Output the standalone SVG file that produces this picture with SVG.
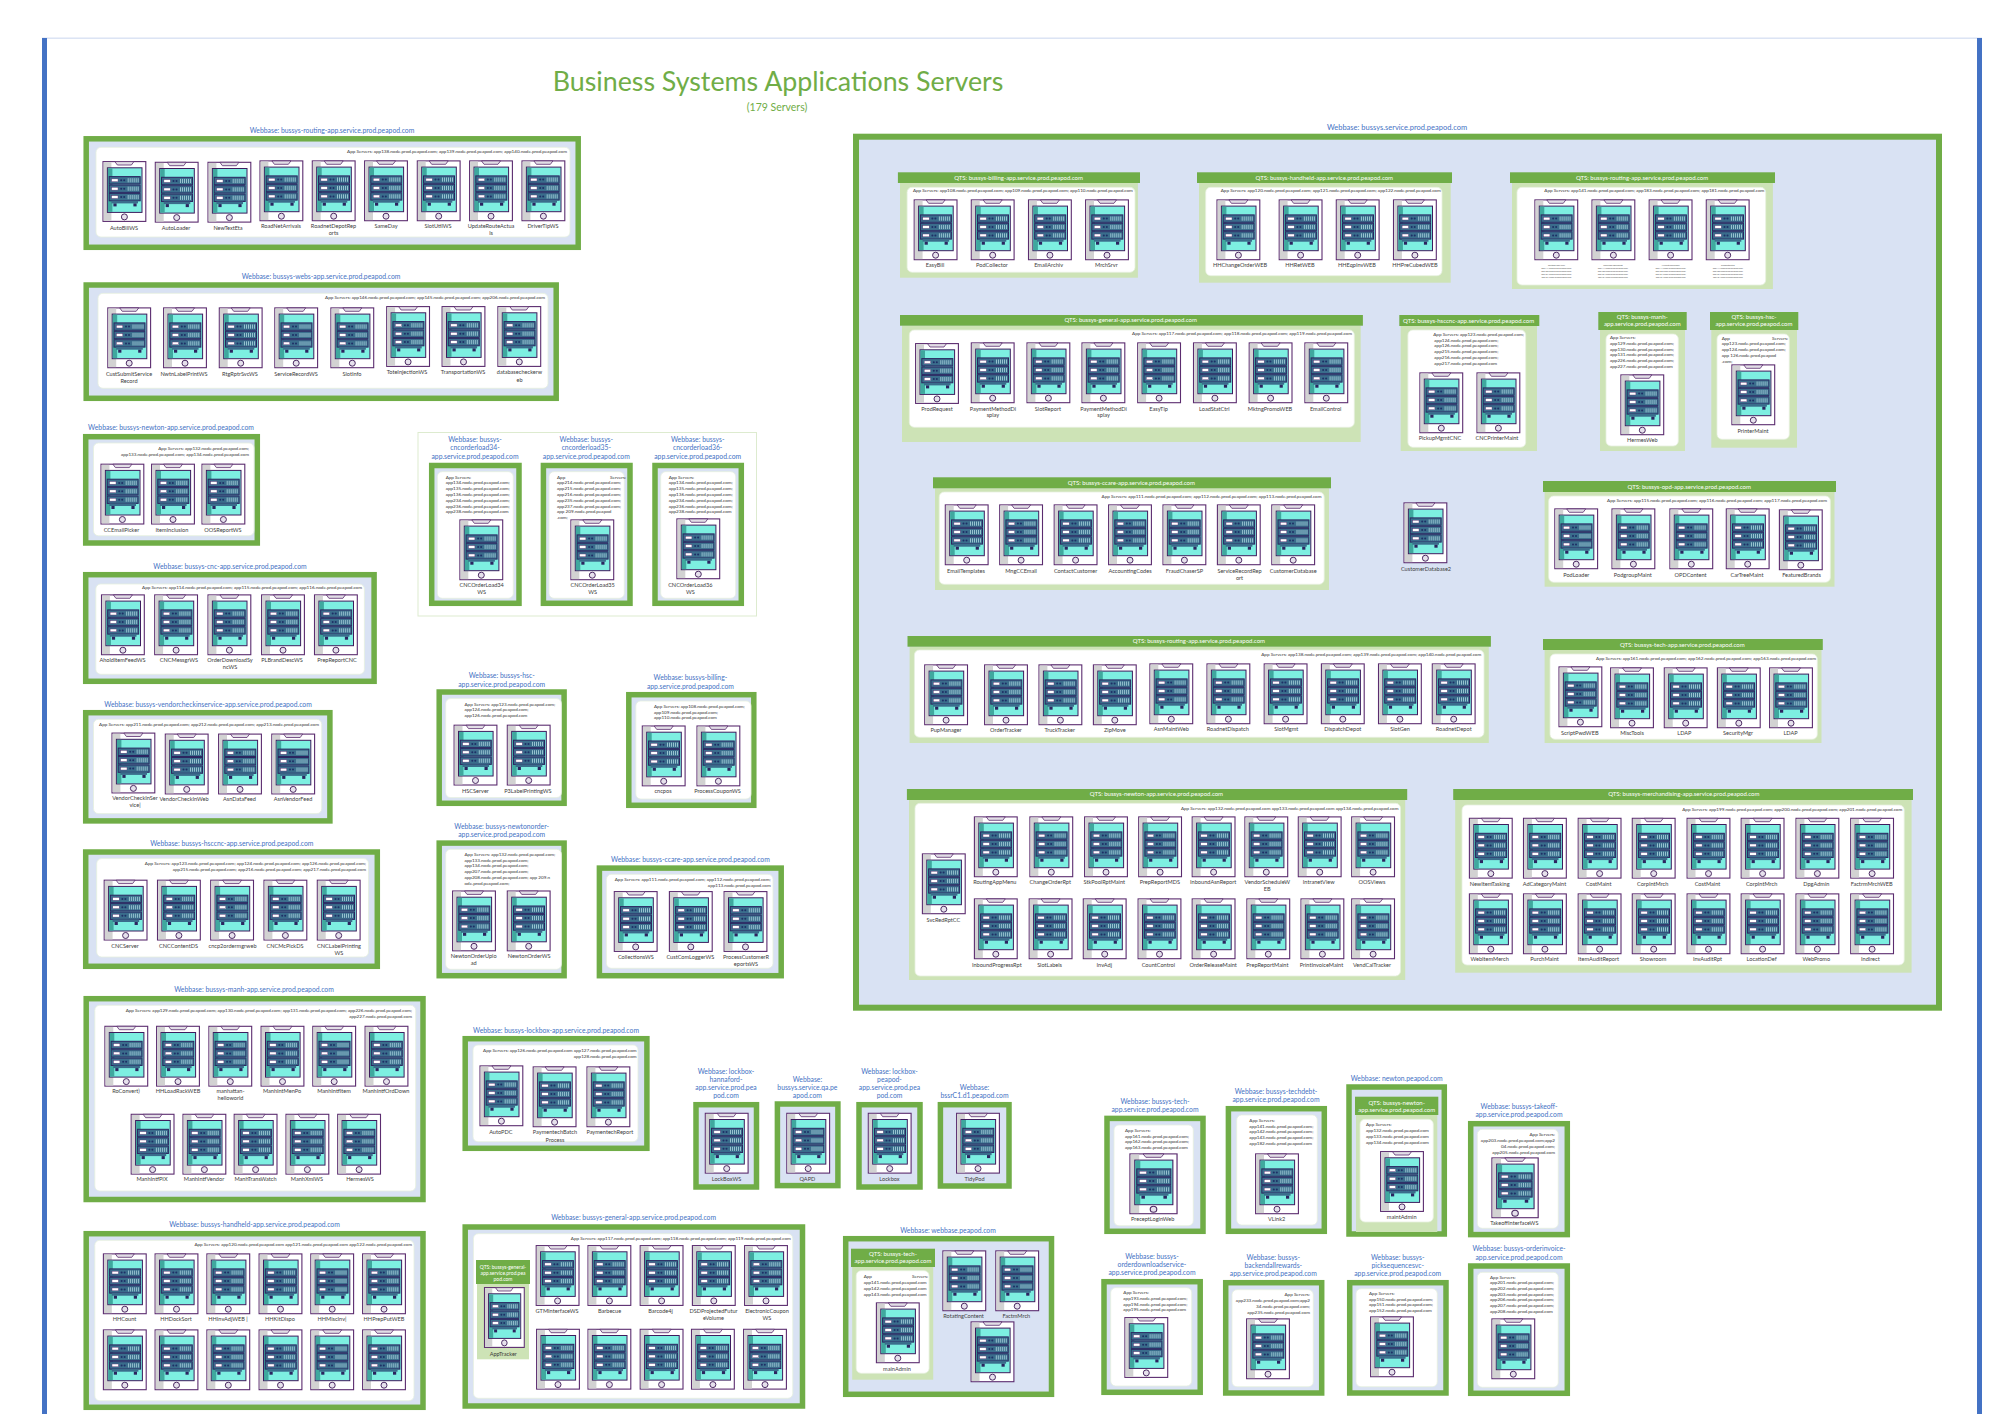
<svg xmlns="http://www.w3.org/2000/svg" width="2000" height="1414" viewBox="0 0 2000 1414">
<style>
text{font-family:Lato,"Liberation Sans",sans-serif}
.t{font-size:6.8px;fill:#4472C4;text-anchor:middle}
.l{font-size:5.6px;fill:#3c3c3c;text-anchor:middle}
.a{font-size:4.6px;fill:#333}
.r{font-size:4.6px;fill:#333;text-anchor:end}
.q{font-size:6px;fill:#fff;text-anchor:middle}
.m{font-size:2.2px;fill:#555;text-anchor:middle}
.o{fill:#D9E2F3;stroke:#70AD47;stroke-width:5.5}
.w{fill:#fff;stroke:#E6F0DE;stroke-width:.8}
.h{fill:#70AD47}
.b{fill:#CDE3B6}
</style>
<defs>
<g id="u"><rect width="31" height="7.4" fill="#3A6D8C" stroke="#2B2560" stroke-width="1"/><rect x="2.4" y="2.3" width="6.4" height="2.8" fill="#fff" stroke="#5B2C6F" stroke-width=".4"/><circle cx="12" cy="3.7" r="1" fill="#1E2F66"/><circle cx="15" cy="3.7" r="1" fill="#1E2F66"/><path d="M19 1.6v4.2M21 1.6v4.2M23 1.6v4.2M25 1.6v4.2M27 1.6v4.2M29 1.6v4.2" stroke="#BFE6EC" stroke-width=".7"/></g>
<g id="s">
<rect x=".6" y=".6" width="42.8" height="59.8" fill="#fff" stroke="#5B2C6F" stroke-width="1.1"/>
<rect x="1.2" y="1.2" width="7.8" height="58.6" fill="#D2D2D2"/>
<path d="M12.5 .6L15 4H29L31.5 .6Z" fill="#E2DEE6" stroke="#5B2C6F" stroke-width=".8"/>
<rect x="5" y="6.8" width="34.6" height="44.6" fill="#7DEFE1" stroke="#3E1C5E" stroke-width="1"/>
<rect x="5.5" y="7.3" width="4.5" height="43.6" fill="#3FA89E"/>
<use href="#u" x="6.8" y="15.6"/><use href="#u" x="6.8" y="24"/><use href="#u" x="6.8" y="32.4"/>
<rect x="9" y="39.8" width="26.6" height="2.6" fill="#3A6D8C"/><rect x="11" y="42.4" width="3.2" height="3" fill="#2B2560"/><rect x="31" y="42.4" width="3.2" height="3" fill="#2B2560"/>
<circle cx="22" cy="55.9" r="3" fill="#E6E1EC" stroke="#4B2A63" stroke-width="1"/>
</g>
</defs>
<g id="frame">
<rect x="42" y="37.5" width="1940" height="1.4" fill="#D9E2F3"/>
<rect x="42" y="38" width="5" height="1376" fill="#4472C4"/>
<rect x="1977" y="38" width="5" height="1376" fill="#4472C4"/>
</g>
<g id="heading">
<text x="778" y="91" fill="#70AD47" text-anchor="middle" style="font-size:26.8px">Business Systems Applications Servers</text>
<text x="777" y="111" fill="#70AD47" text-anchor="middle" style="font-size:10.5px">(179 Servers)</text>
</g>
<g id="connectors"/>

<g id="box-routing">
<rect class="o" x="86.2" y="138.8" width="492" height="108.5"/><rect class="w" x="96" y="147.3" width="474" height="89.7" rx="5"/>
<text class="t" x="332" y="132.5">Webbase: bussys-routing-app.service.prod.peapod.com</text>
<text class="r" x="567" y="153">App Servers: app138.node.prod.peapod.com; app139.node.prod.peapod.com; app140.node.prod.peapod.com</text>
<g id="routing-1"><use href="#s" x="102.4" y="161"/><text class="l" x="124" y="230">AutoBillWS</text></g>
<g id="routing-2"><use href="#s" x="154.7" y="161.7"/><text class="l" x="176" y="230">AutoLoader</text></g>
<g id="routing-3"><use href="#s" x="207.4" y="161.7"/><text class="l" x="228" y="230">NewTextEta</text></g>
<g id="routing-4"><use href="#s" x="259.4" y="160.3"/><text class="l" x="281" y="228">RoadNetArrivals</text></g>
<g id="routing-5"><use href="#s" x="311.7" y="160.3"/><text class="l" x="333.5" y="228">RoadnetDepotRep<tspan x="333.5" y="235">orts</tspan></text></g>
<g id="routing-6"><use href="#s" x="364" y="160.3"/><text class="l" x="386" y="228">SameDay</text></g>
<g id="routing-7"><use href="#s" x="416.7" y="160.3"/><text class="l" x="438" y="228">SlotUtilWS</text></g>
<g id="routing-8"><use href="#s" x="469" y="160.3"/><text class="l" x="491" y="228">UpdateRouteActua<tspan x="491" y="235">ls</tspan></text></g>
<g id="routing-9"><use href="#s" x="521.4" y="160.3"/><text class="l" x="543" y="228">DriverTipWS</text></g>
</g>

<g id="box-webs">
<rect class="o" x="86.2" y="285" width="470" height="113.3"/><rect class="w" x="98" y="293.3" width="450" height="95" rx="5"/>
<text class="t" x="321" y="278.5">Webbase: bussys-webs-app.service.prod.peapod.com</text>
<text class="r" x="545" y="299">App Servers: app146.node.prod.peapod.com; app145.node.prod.peapod.com; app206.node.prod.peapod.com</text>
<g id="webs-1"><use href="#s" x="107.2" y="307.3"/><text class="l" x="129" y="376">CustSubmitService<tspan x="129" y="382.5">Record</tspan></text></g>
<g id="webs-2"><use href="#s" x="163" y="307.3"/><text class="l" x="184" y="376">NwtnLabelPrintWS</text></g>
<g id="webs-3"><use href="#s" x="218.7" y="307.3"/><text class="l" x="240" y="376">RtgRptrSvcWS</text></g>
<g id="webs-4"><use href="#s" x="274.2" y="307.3"/><text class="l" x="296" y="376">ServiceRecordWS</text></g>
<g id="webs-5"><use href="#s" x="330.3" y="307.3"/><text class="l" x="352" y="376">SlotInfo</text></g>
<g id="webs-6"><use href="#s" x="386.1" y="306"/><text class="l" x="407" y="374">ToteInjectionWS</text></g>
<g id="webs-7"><use href="#s" x="441.5" y="306"/><text class="l" x="463" y="374">TransportationWS</text></g>
<g id="webs-8"><use href="#s" x="497.3" y="306"/><text class="l" x="519.5" y="374">databasecheckerw<tspan x="519.5" y="381.5">eb</tspan></text></g>
</g>

<g id="box-newton">
<rect class="o" x="85.7" y="436.7" width="171.6" height="106.3"/><rect class="w" x="93.5" y="443" width="160.5" height="92.7" rx="5"/>
<text class="t" x="171" y="430">Webbase: bussys-newton-app.service.prod.peapod.com</text>
<text class="r" x="249" y="450">App Servers: app132.node.prod.peapod.com;</text><text class="r" x="249" y="456">app133.node.prod.peapod.com; app134.node.prod.peapod.com</text>
<g id="newton-1"><use href="#s" x="100.4" y="463.6"/><text class="l" x="121.5" y="532">CCEmailPicker</text></g>
<g id="newton-2"><use href="#s" x="151" y="463.6"/><text class="l" x="172" y="532">ItemInclusion</text></g>
<g id="newton-3"><use href="#s" x="201.4" y="463.6"/><text class="l" x="223" y="532">OOSReportWS</text></g>
</g>

<g id="box-cnc">
<rect class="o" x="85.7" y="574.7" width="288.4" height="106.6"/><rect class="w" x="95.8" y="584" width="268.6" height="90.3" rx="5"/>
<text class="t" x="230" y="568.5">Webbase: bussys-cnc-app.service.prod.peapod.com</text>
<text class="r" x="362" y="589">App Servers: app114.node.prod.peapod.com; app115.node.prod.peapod.com; app116.node.prod.peapod.com</text>
<g id="cnc-1"><use href="#s" x="100.9" y="594.3"/><text class="l" x="122.5" y="662">AholdItemFeedWS</text></g>
<g id="cnc-2"><use href="#s" x="154.1" y="594.3"/><text class="l" x="179" y="662">CNCMessgrWS</text></g>
<g id="cnc-3"><use href="#s" x="207.4" y="594.3"/><text class="l" x="230" y="662">OrderDownloadSy<tspan x="230" y="669">ncWS</tspan></text></g>
<g id="cnc-4"><use href="#s" x="261" y="594.3"/><text class="l" x="282" y="662">PLBrandDescWS</text></g>
<g id="cnc-5"><use href="#s" x="313.9" y="594.3"/><text class="l" x="337" y="662">PrepReportCNC</text></g>
</g>

<g id="box-vendor">
<rect class="o" x="85.7" y="712.7" width="244.2" height="108.2"/><rect class="w" x="93.5" y="719.3" width="228.2" height="94.3" rx="5"/>
<text class="t" x="208" y="706.6">Webbase: bussys-vendorcheckinservice-app.service.prod.peapod.com</text>
<text class="r" x="319" y="726">App Servers: app211.node.prod.peapod.com; app212.node.prod.peapod.com; app213.node.prod.peapod.com</text>
<g id="vendor-1"><use href="#s" x="111.4" y="732.5"/><text class="l" x="135" y="800">VendorCheckInSer<tspan x="135" y="807">vice|</tspan></text></g>
<g id="vendor-2"><use href="#s" x="164.7" y="733.5"/><text class="l" x="184" y="801">VendorCheckInWeb</text></g>
<g id="vendor-3"><use href="#s" x="218" y="733.5"/><text class="l" x="239.5" y="801">AsnDataFeed</text></g>
<g id="vendor-4"><use href="#s" x="271.2" y="733.5"/><text class="l" x="293" y="801">AsnVendorFeed</text></g>
</g>

<g id="box-hsccnc">
<rect class="o" x="85.7" y="852" width="291.6" height="114.3"/><rect class="w" x="96.7" y="858.6" width="271.8" height="98.4" rx="5"/>
<text class="t" x="231.8" y="845.6">Webbase: bussys-hsccnc-app.service.prod.peapod.com</text>
<text class="r" x="366" y="864.5">App Servers: app123.node.prod.peapod.com; app124.node.prod.peapod.com; app126.node.prod.peapod.com;</text><text class="r" x="366" y="871">app215.node.prod.peapod.com; app216.node.prod.peapod.com; app217.node.prod.peapod.com</text>
<g id="hsccnc-1"><use href="#s" x="103.6" y="879.6"/><text class="l" x="125" y="948">CNCServer</text></g>
<g id="hsccnc-2"><use href="#s" x="156.9" y="879.6"/><text class="l" x="178.5" y="948">CNCContentDS</text></g>
<g id="hsccnc-3"><use href="#s" x="210.1" y="879.6"/><text class="l" x="232.5" y="948">cncp2ordermgrweb</text></g>
<g id="hsccnc-4"><use href="#s" x="263.4" y="879.6"/><text class="l" x="285" y="948">CNCMcPickDS</text></g>
<g id="hsccnc-5"><use href="#s" x="316.7" y="879.6"/><text class="l" x="339" y="948">CNCLabelPrinting<tspan x="339" y="954.5">WS</tspan></text></g>
</g>

<g id="box-cncorderload"><rect x="418" y="432.5" width="338.5" height="183.5" fill="#fff" stroke="#DDEBCF" stroke-width="1"/></g>
<g id="box-load34">
<rect class="o" x="431.7" y="465.5" width="87.3" height="137.8"/><rect class="w" x="437.3" y="471.7" width="76" height="126.6" rx="5"/>
<text class="t" x="475" y="442">Webbase: bussys-<tspan x="475" y="450.3">cncorderload34-</tspan><tspan x="475" y="459">app.service.prod.peapod.com</tspan></text>
<text class="a" x="445.7" y="479">App Servers:<tspan x="445.7" y="484">app134.node.prod.peapod.com;</tspan><tspan x="445.7" y="490">app135.node.prod.peapod.com;</tspan><tspan x="445.7" y="496">app136.node.prod.peapod.com;</tspan><tspan x="445.7" y="502">app234.node.prod.peapod.com;</tspan><tspan x="445.7" y="507.5">app236.node.prod.peapod.com;</tspan><tspan x="445.7" y="513">app238.node.prod.peapod.com</tspan></text>
<g id="load34-1"><use href="#s" x="459.3" y="519.3"/><text class="l" x="481.7" y="587">CNCOrderLoad34<tspan x="481.7" y="594">WS</tspan></text></g>
</g>
<g id="box-load35">
<rect class="o" x="543.4" y="465.5" width="86.6" height="137.8"/><rect class="w" x="549" y="471.7" width="75.3" height="126.6" rx="5"/>
<text class="t" x="586.3" y="442">Webbase: bussys-<tspan x="586.3" y="450.3">cncorderload35-</tspan><tspan x="586.3" y="459">app.service.prod.peapod.com</tspan></text>
<text class="a" x="557" y="479">App<tspan x="610" y="479">Servers:</tspan><tspan x="557" y="484">app214.node.prod.peapod.com;</tspan><tspan x="557" y="490">app215.node.prod.peapod.com;</tspan><tspan x="557" y="496">app216.node.prod.peapod.com;</tspan><tspan x="557" y="502">app235.node.prod.peapod.com;</tspan><tspan x="557" y="507.5">app237.node.prod.peapod.com;</tspan><tspan x="557" y="513">app 209.node.prod.peapod</tspan><tspan x="557" y="519">.com;</tspan></text>
<g id="load35-1"><use href="#s" x="570.3" y="519.3"/><text class="l" x="592.7" y="587">CNCOrderLoad35<tspan x="592.7" y="594">WS</tspan></text></g>
</g>
<g id="box-load36">
<rect class="o" x="655" y="465.5" width="86.3" height="137.8"/><rect class="w" x="660.7" y="471.7" width="75" height="126.6" rx="5"/>
<text class="t" x="697.7" y="442">Webbase: bussys-<tspan x="697.7" y="450.3">cncorderload36-</tspan><tspan x="697.7" y="459">app.service.prod.peapod.com</tspan></text>
<text class="a" x="668.7" y="479">App Servers:<tspan x="668.7" y="484">app134.node.prod.peapod.com;</tspan><tspan x="668.7" y="490">app135.node.prod.peapod.com;</tspan><tspan x="668.7" y="496">app136.node.prod.peapod.com;</tspan><tspan x="668.7" y="502">app234.node.prod.peapod.com;</tspan><tspan x="668.7" y="507.5">app236.node.prod.peapod.com;</tspan><tspan x="668.7" y="513">app238.node.prod.peapod.com</tspan></text>
<g id="load36-1"><use href="#s" x="676.3" y="518.3"/><text class="l" x="690.3" y="587">CNCOrderLoad36<tspan x="690.3" y="594">WS</tspan></text></g>
</g>

<g id="box-hsc">
<rect class="o" x="439.2" y="692" width="124.9" height="111.3"/><rect class="w" x="445.7" y="698.6" width="115.7" height="99" rx="5"/>
<text class="t" x="501.7" y="678">Webbase: bussys-hsc-<tspan x="501.7" y="686.5">app.service.prod.peapod.com</tspan></text>
<text class="a" x="464.5" y="706">App Servers: app123.node.prod.peapod.com;<tspan x="464.5" y="711">app124.node.prod.peapod.com;</tspan><tspan x="464.5" y="717">app126.node.prod.peapod.com</tspan></text>
<g id="hsc-1"><use href="#s" x="453.5" y="724.6"/><text class="l" x="475.5" y="793">HSCServer</text></g>
<g id="hsc-2"><use href="#s" x="506.7" y="724.6"/><text class="l" x="527.9" y="793">P3LabelPrintingWS</text></g>
</g>
<g id="box-billing">
<rect class="o" x="628.8" y="694.7" width="125" height="110.6"/><rect class="w" x="635.8" y="701" width="115.2" height="98" rx="5"/>
<text class="t" x="690.4" y="680">Webbase: bussys-billing-<tspan x="690.4" y="688.5">app.service.prod.peapod.com</tspan></text>
<text class="a" x="654" y="708">App Servers: app108.node.prod.peapod.com;<tspan x="654" y="713.5">app109.node.prod.peapod.com;</tspan><tspan x="654" y="718.5">app110.node.prod.peapod.com</tspan></text>
<g id="billing-1"><use href="#s" x="641.7" y="725.4"/><text class="l" x="663" y="793">cncpos</text></g>
<g id="billing-2"><use href="#s" x="696.4" y="725.4"/><text class="l" x="717.5" y="793">ProcessCouponWS</text></g>
</g>
<g id="box-newtonorder">
<rect class="o" x="439.2" y="843.1" width="124.9" height="132.6"/><rect class="w" x="445.7" y="849.3" width="115.7" height="120" rx="5"/>
<text class="t" x="501.7" y="829">Webbase: bussys-newtonorder-<tspan x="501.7" y="837">app.service.prod.peapod.com</tspan></text>
<text class="a" x="464.5" y="856">App Servers: app132.node.prod.peapod.com;<tspan x="464.5" y="862">app133.node.prod.peapod.com;</tspan><tspan x="464.5" y="867">app134.node.prod.peapod.com;</tspan><tspan x="464.5" y="872.5">app207.node.prod.peapod.com;</tspan><tspan x="464.5" y="878.5">app208.node.prod.peapod.com; app 209.n</tspan><tspan x="464.5" y="884.5">ode.prod.peapod.com;</tspan></text>
<g id="neworder-1"><use href="#s" x="452" y="890.4"/><text class="l" x="473.7" y="958">NewtonOrderUplo<tspan x="473.7" y="965">ad</tspan></text></g>
<g id="neworder-2"><use href="#s" x="506.7" y="890.4"/><text class="l" x="529.2" y="958">NewtonOrderWS</text></g>
</g>
<g id="box-ccare">
<rect class="o" x="599.4" y="868.1" width="181.8" height="107.6"/><rect class="w" x="606.4" y="874.3" width="166.6" height="94" rx="5"/>
<text class="t" x="690.4" y="861.5">Webbase: bussys-ccare-app.service.prod.peapod.com</text>
<text class="r" x="770.7" y="881">App Servers: app111.node.prod.peapod.com; app112.node.prod.peapod.com;</text><text class="r" x="770.7" y="887">app113.node.prod.peapod.com</text>
<g id="ccare-1"><use href="#s" x="613.7" y="891"/><text class="l" x="635.8" y="959">CollectionsWS</text></g>
<g id="ccare-2"><use href="#s" x="668.8" y="891"/><text class="l" x="690.4" y="959">CustComLoggerWS</text></g>
<g id="ccare-3"><use href="#s" x="723.5" y="891"/><text class="l" x="746" y="959">ProcessCustomerR<tspan x="746" y="966">eportsWS</tspan></text></g>
</g>

<g id="box-manh">
<rect class="o" x="86.2" y="998.7" width="336.8" height="200.8"/><rect class="w" x="94.8" y="1005.3" width="320.9" height="185.7" rx="5"/>
<text class="t" x="254" y="992">Webbase: bussys-manh-app.service.prod.peapod.com</text>
<text class="r" x="412" y="1012">App Servers: app129.node.prod.peapod.com; app130.node.prod.peapod.com; app131.node.prod.peapod.com; app226.node.prod.peapod.com;</text><text class="r" x="412" y="1018">app227.node.prod.peapod.com</text>
<g id="manh-1"><use href="#s" x="104.3" y="1025.7"/><text class="l" x="126" y="1093">RoConvert)</text></g>
<g id="manh-2"><use href="#s" x="156" y="1025.7"/><text class="l" x="178" y="1093">HHLoadRackWEB</text></g>
<g id="manh-3"><use href="#s" x="208.3" y="1025.7"/><text class="l" x="230.5" y="1093">manhattan-<tspan x="230.5" y="1100">helloworld</tspan></text></g>
<g id="manh-4"><use href="#s" x="260.5" y="1025.7"/><text class="l" x="282" y="1093">ManhIntMenPo</text></g>
<g id="manh-5"><use href="#s" x="312.2" y="1025.7"/><text class="l" x="334" y="1093">ManhIntfItem</text></g>
<g id="manh-6"><use href="#s" x="364.5" y="1025.7"/><text class="l" x="386" y="1093">ManhIntfOrdDown</text></g>
<g id="manh-7"><use href="#s" x="130.6" y="1113.7"/><text class="l" x="152" y="1181">ManhIntfPIX</text></g>
<g id="manh-8"><use href="#s" x="182.4" y="1113.7"/><text class="l" x="204" y="1181">ManhIntfVendor</text></g>
<g id="manh-9"><use href="#s" x="233.6" y="1113.7"/><text class="l" x="255.5" y="1181">ManhTransWatch</text></g>
<g id="manh-10"><use href="#s" x="285.4" y="1113.7"/><text class="l" x="307" y="1181">ManhXmlWS</text></g>
<g id="manh-11"><use href="#s" x="337.1" y="1113.7"/><text class="l" x="360" y="1181">HermesWS</text></g>
</g>
<g id="box-lockbox">
<rect class="o" x="465.2" y="1038.7" width="181.7" height="109.6"/><rect class="w" x="473" y="1045" width="165" height="96.7" rx="5"/>
<text class="t" x="556" y="1032.5">Webbase: bussys-lockbox-app.service.prod.peapod.com</text>
<text class="r" x="636.6" y="1052">App Servers: app126.node.prod.peapod.com app127.node.prod.peapod.com</text><text class="r" x="636.6" y="1058">app128.node.prod.peapod.com</text>
<g id="lockbox-1"><use href="#s" x="479.4" y="1065.3"/><text class="l" x="500.8" y="1134">AutoPDC</text></g>
<g id="lockbox-2"><use href="#s" x="532.6" y="1066.3"/><text class="l" x="555" y="1134">PaymentechBatch<tspan x="555" y="1142">Process</tspan></text></g>
<g id="lockbox-3"><use href="#s" x="586.4" y="1066.3"/><text class="l" x="609.8" y="1134">PaymentechReport</text></g>
</g>
<g id="box-handheld">
<rect class="o" x="86.2" y="1233.7" width="336.8" height="173.6"/><rect class="w" x="94.8" y="1240.3" width="319.2" height="160.4" rx="5"/>
<text class="t" x="254.5" y="1227">Webbase: bussys-handheld-app.service.prod.peapod.com</text>
<text class="r" x="412" y="1246">App Servers: app120.node.prod.peapod.com app121.node.prod.peapod.com app122.node.prod.peapod.com</text>
<g id="hh-1"><use href="#s" x="102.8" y="1253.3"/><text class="l" x="124.5" y="1321">HHCount</text></g>
<g id="hh-2"><use href="#s" x="154.5" y="1253.3"/><text class="l" x="176" y="1321">HHDockSort</text></g>
<g id="hh-3"><use href="#s" x="206.3" y="1253.3"/><text class="l" x="228" y="1321">HHInvAdjWEB |</text></g>
<g id="hh-4"><use href="#s" x="258.5" y="1253.3"/><text class="l" x="280" y="1321">HHKitDispo</text></g>
<g id="hh-5"><use href="#s" x="310.2" y="1253.3"/><text class="l" x="332" y="1321">HHMiscInv|</text></g>
<g id="hh-6"><use href="#s" x="362" y="1253.3"/><text class="l" x="384" y="1321">HHPrepPutWEB</text></g>
<g id="hh-7"><use href="#s" x="102.8" y="1329.3"/></g>
<g id="hh-8"><use href="#s" x="154.5" y="1329.3"/></g>
<g id="hh-9"><use href="#s" x="206.3" y="1329.3"/></g>
<g id="hh-10"><use href="#s" x="258.5" y="1329.3"/></g>
<g id="hh-11"><use href="#s" x="310.2" y="1329.3"/></g>
<g id="hh-12"><use href="#s" x="362" y="1329.3"/></g>
</g>
<g id="box-general">
<rect class="o" x="465.2" y="1227" width="337.3" height="179"/><rect class="w" x="473.4" y="1233.7" width="319.4" height="164.6" rx="5"/>
<text class="t" x="633.6" y="1220.3">Webbase: bussys-general-app.service.prod.peapod.com</text>
<text class="r" x="790.8" y="1240">App Servers: app117.node.prod.peapod.com; app118.node.prod.peapod.com; app119.node.prod.peapod.com</text>
<rect class="b" x="477" y="1284" width="52" height="75.3"/><rect class="h" x="476" y="1260" width="54" height="24"/>
<text class="q" x="503" y="1268.5" style="font-size:5px">QTS: bussys-general-<tspan x="503" y="1274.5">app.service.prod.pea</tspan><tspan x="503" y="1280.5">pod.com</tspan></text>
<g id="general-0"><use href="#s" transform="translate(483.9 1287) scale(.93 1)"/><text class="l" x="503.3" y="1355.5">AppTracker</text></g>
<g id="general-1"><use href="#s" x="535.6" y="1245"/><text class="l" x="557" y="1313">GTMInterfaceWS</text></g>
<g id="general-2"><use href="#s" x="587.4" y="1245"/><text class="l" x="609.5" y="1313">Barbecue</text></g>
<g id="general-3"><use href="#s" x="639.6" y="1245"/><text class="l" x="660.5" y="1313">Barcode4j</text></g>
<g id="general-4"><use href="#s" x="691.8" y="1245"/><text class="l" x="713.5" y="1313">DSDProjectedFutur<tspan x="713.5" y="1320">eVolume</tspan></text></g>
<g id="general-5"><use href="#s" x="744" y="1245"/><text class="l" x="767" y="1313">ElectronicCoupon<tspan x="767" y="1320">WS</tspan></text></g>
<g id="general-6"><use href="#s" x="536" y="1328.7"/></g>
<g id="general-7"><use href="#s" x="587.4" y="1328.7"/></g>
<g id="general-8"><use href="#s" x="639.6" y="1328.7"/></g>
<g id="general-9"><use href="#s" x="690.9" y="1328.7"/></g>
<g id="general-10"><use href="#s" x="743" y="1328.7"/></g>
</g>

<g id="box-lockboxhann">
<rect class="o" x="696" y="1104.7" width="60.5" height="82.3"/>
<text class="t" x="726" y="1074.3">Webbase: lockbox-<tspan x="726" y="1082.3">hannaford-</tspan><tspan x="726" y="1090">app.service.prod.pea</tspan><tspan x="726" y="1098">pod.com</tspan></text>
<use href="#s" x="704.7" y="1112.7"/><text class="l" x="726.5" y="1181">LockBoxWS</text>
</g>
<g id="box-qapd">
<rect class="o" x="777.4" y="1104" width="60.5" height="81.6"/>
<text class="t" x="807.4" y="1082.3">Webbase:<tspan x="807.4" y="1090.3">bussys.service.qa.pe</tspan><tspan x="807.4" y="1098">apod.com</tspan></text>
<use href="#s" x="786.2" y="1112.7"/><text class="l" x="807.4" y="1181">QAPD</text>
</g>
<g id="box-lockboxpea">
<rect class="o" x="859" y="1104.7" width="61" height="82.3"/>
<text class="t" x="889.5" y="1074.3">Webbase: lockbox-<tspan x="889.5" y="1082.3">peapod-</tspan><tspan x="889.5" y="1090">app.service.prod.pea</tspan><tspan x="889.5" y="1098">pod.com</tspan></text>
<use href="#s" x="867.7" y="1112.7"/><text class="l" x="889.5" y="1181">Lockbox</text>
</g>
<g id="box-tidypod">
<rect class="o" x="940.4" y="1104.7" width="68.6" height="81.3"/>
<text class="t" x="974.5" y="1090.3">Webbase:<tspan x="974.5" y="1098">bssrC1.d1.peapod.com</tspan></text>
<use href="#s" x="956" y="1112.7"/><text class="l" x="974.5" y="1181">TidyPod</text>
</g>
<g id="box-webbase">
<rect class="o" x="845.7" y="1238.7" width="205.8" height="155.6"/>
<text class="t" x="948" y="1232.5">Webbase: webbase.peapod.com</text>
<rect class="b" x="852.2" y="1267" width="81" height="112.7"/><rect class="h" x="851" y="1248.7" width="84" height="18.3"/>
<rect class="w" x="856.2" y="1270.7" width="72.9" height="102.6" rx="5"/>
<text class="q" x="893" y="1255.8">QTS: bussys-tech-<tspan x="893" y="1263.3">app.service.prod.peapod.com</tspan></text>
<text class="a" x="863.7" y="1278">App<tspan x="912" y="1278">Servers:</tspan><tspan x="863.7" y="1283.5">app141.node.prod.peapod.com</tspan><tspan x="863.7" y="1289.5">app142.node.prod.peapod.com</tspan><tspan x="863.7" y="1295.5">app143.node.prod.peapod.com</tspan></text>
<g id="webbase-1"><use href="#s" x="875.8" y="1302.3"/><text class="l" x="897" y="1371">mainAdmin</text></g>
<g id="webbase-2"><use href="#s" x="942.3" y="1250.3"/><text class="l" x="963.6" y="1318">RotatingContent</text></g>
<g id="webbase-3"><use href="#s" x="995.2" y="1250.3"/><text class="l" x="1016.4" y="1318">FactmMrch</text></g>
<g id="webbase-4"><use href="#s" x="970.5" y="1321.3"/></g>
</g>

<g id="box-tech">
<rect class="o" x="1107" y="1118.4" width="96" height="112.9"/><rect class="w" x="1114" y="1125" width="79.3" height="100.7" rx="5"/>
<text class="t" x="1155" y="1104">Webbase: bussys-tech-<tspan x="1155" y="1112">app.service.prod.peapod.com</tspan></text>
<text class="a" x="1125" y="1132">App Servers:<tspan x="1125" y="1137.5">app161.node.prod.peapod.com;</tspan><tspan x="1125" y="1143">app162.node.prod.peapod.com;</tspan><tspan x="1125" y="1149">app163.node.prod.peapod.com</tspan></text>
<g id="tech-1"><use href="#s" transform="translate(1129.3 1153.3) scale(1.1 1)"/><text class="l" x="1152.7" y="1221.3">PreceptLoginWeb</text></g>
</g>
<g id="box-techdebt">
<rect class="o" x="1228.4" y="1108.7" width="95.9" height="122.6"/><rect class="w" x="1236.7" y="1115" width="80.6" height="110" rx="5"/>
<text class="t" x="1276" y="1094.3">Webbase: bussys-techdebt-<tspan x="1276" y="1102.3">app.service.prod.peapod.com</tspan></text>
<text class="a" x="1249.3" y="1122">App Servers:<tspan x="1249.3" y="1127.5">app141.node.prod.peapod.com;</tspan><tspan x="1249.3" y="1133">app142.node.prod.peapod.com;</tspan><tspan x="1249.3" y="1139">app143.node.prod.peapod.com;</tspan><tspan x="1249.3" y="1145">app182.node.prod.peapod.com</tspan></text>
<g id="techdebt-1"><use href="#s" x="1255" y="1153.3"/><text class="l" x="1276.7" y="1221.3">VLink2</text></g>
</g>
<g id="box-newtonpea">
<rect class="o" x="1349" y="1087" width="95.3" height="147"/>
<text class="t" x="1396.7" y="1081">Webbase: newton.peapod.com</text>
<rect class="b" x="1356" y="1115" width="81.3" height="117"/><rect class="h" x="1355" y="1096.7" width="83.3" height="18.3"/>
<rect class="w" x="1360" y="1119.3" width="73.3" height="102.7" rx="5"/>
<text class="q" x="1396.7" y="1104.7">QTS: bussys-newton-<tspan x="1396.7" y="1111.7">app.service.prod.peapod.com</tspan></text>
<text class="a" x="1366" y="1126">App Servers:<tspan x="1366" y="1132">app132.node.prod.peapod.com</tspan><tspan x="1366" y="1138">app133.node.prod.peapod.com</tspan><tspan x="1366" y="1144">app134.node.prod.peapod.com</tspan></text>
<g id="newtonpea-1"><use href="#s" x="1380" y="1151"/><text class="l" x="1401.7" y="1219">maintAdmin</text></g>
</g>
<g id="box-takeoff">
<rect class="o" x="1470.7" y="1123.7" width="96.6" height="110.9"/><rect class="w" x="1477.3" y="1129.3" width="81" height="99" rx="5"/>
<text class="t" x="1519" y="1109.3">Webbase: bussys-takeoff-<tspan x="1519" y="1117.3">app.service.prod.peapod.com</tspan></text>
<text class="r" x="1555" y="1136">App Servers:<tspan x="1555" y="1142">app203.node.prod.peapod.com;app2</tspan><tspan x="1555" y="1148">04.node.prod.peapod.com;</tspan><tspan x="1555" y="1154">app205.node.prod.peapod.com</tspan></text>
<g id="takeoff-1"><use href="#s" transform="translate(1491.3 1157.3) scale(1.08 1)"/><text class="l" x="1514.3" y="1225">TakeoffInterfaceWS</text></g>
</g>
<g id="box-orderdownload">
<rect class="o" x="1104" y="1281.7" width="96.2" height="110.6"/><rect class="w" x="1110.7" y="1287.7" width="81" height="98.3" rx="5"/>
<text class="t" x="1152" y="1259.3">Webbase: bussys-<tspan x="1152" y="1267.3">orderdownloadservice-</tspan><tspan x="1152" y="1275.3">app.service.prod.peapod.com</tspan></text>
<text class="a" x="1123.3" y="1294">App Servers:<tspan x="1123.3" y="1300">app193.node.prod.peapod.com;</tspan><tspan x="1123.3" y="1305.5">app194.node.prod.peapod.com;</tspan><tspan x="1123.3" y="1311">app195.node.prod.peapod.com</tspan></text>
<use href="#s" x="1124.3" y="1317"/>
</g>
<g id="box-backendall">
<rect class="o" x="1225.7" y="1282.7" width="96" height="110.3"/><rect class="w" x="1232" y="1289.7" width="81.3" height="97" rx="5"/>
<text class="t" x="1273.3" y="1260.3">Webbase: bussys-<tspan x="1273.3" y="1268.3">backendallrewards-</tspan><tspan x="1273.3" y="1276.3">app.service.prod.peapod.com</tspan></text>
<text class="r" x="1310" y="1296">App Servers:<tspan x="1310" y="1302">app233.node.prod.peapod.com;app2</tspan><tspan x="1310" y="1308">34.node.prod.peapod.com;</tspan><tspan x="1310" y="1314">app235.node.prod.peapod.com</tspan></text>
<use href="#s" x="1246" y="1318.3"/>
</g>
<g id="box-picksequence">
<rect class="o" x="1349.7" y="1282.7" width="96.3" height="110.3"/><rect class="w" x="1356" y="1288.7" width="81.3" height="98" rx="5"/>
<text class="t" x="1397.7" y="1260.3">Webbase: bussys-<tspan x="1397.7" y="1268.3">picksequencesvc-</tspan><tspan x="1397.7" y="1276.3">app.service.prod.peapod.com</tspan></text>
<text class="a" x="1369" y="1295">App Servers:<tspan x="1369" y="1301">app150.node.prod.peapod.com;</tspan><tspan x="1369" y="1306">app151.node.prod.peapod.com;</tspan><tspan x="1369" y="1312">app152.node.prod.peapod.com</tspan></text>
<use href="#s" x="1370" y="1316.3"/>
</g>
<g id="box-orderinvoice">
<rect class="o" x="1470.7" y="1266" width="96.6" height="127.3"/><rect class="w" x="1477.3" y="1272.3" width="81" height="115" rx="5"/>
<text class="t" x="1519" y="1251.3">Webbase: bussys-orderinvoice-<tspan x="1519" y="1259.7">app.service.prod.peapod.com</tspan></text>
<text class="a" x="1490" y="1279">App Servers:<tspan x="1490" y="1284">app201.node.prod.peapod.com;</tspan><tspan x="1490" y="1290">app202.node.prod.peapod.com;</tspan><tspan x="1490" y="1296">app203.node.prod.peapod.com;</tspan><tspan x="1490" y="1301">app206.node.prod.peapod.com;</tspan><tspan x="1490" y="1307">app207.node.prod.peapod.com;</tspan><tspan x="1490" y="1313">app208.node.prod.peapod.com</tspan></text>
<use href="#s" x="1491.3" y="1318.3"/>
</g>

<g id="box-service">
<rect x="856" y="136.7" width="1083" height="871" fill="#D9E2F3" stroke="#70AD47" stroke-width="6"/>
<text class="t" x="1397" y="130" style="font-size:7.5px">Webbase: bussys.service.prod.peapod.com</text>
</g>

<g id="qts-billing">
<rect class="b" x="900" y="183" width="237.9" height="94.7"/><rect class="h" x="897.9" y="172.3" width="242.1" height="10.7"/><rect class="w" x="907.1" y="187.3" width="227.9" height="85" rx="5"/>
<text class="q" x="1018.6" y="179.7">QTS: bussys-billing-app.service.prod.peapod.com</text>
<text class="r" x="1132.9" y="192">App Servers: app108.node.prod.peapod.com; app109.node.prod.peapod.com; app110.node.prod.peapod.com</text>
<g id="qb-1"><use href="#s" x="913.6" y="199.3"/><text class="l" x="935" y="267">EasyBill</text></g>
<g id="qb-2"><use href="#s" x="970.7" y="199.3"/><text class="l" x="992" y="267">PodCollector</text></g>
<g id="qb-3"><use href="#s" x="1027.9" y="199.3"/><text class="l" x="1048.6" y="267">EmailArchiv</text></g>
<g id="qb-4"><use href="#s" x="1085" y="199.3"/><text class="l" x="1106.4" y="267">MrchSrvr</text></g>
</g>
<g id="qts-handheld">
<rect class="b" x="1199" y="183" width="251.7" height="99.7"/><rect class="h" x="1197" y="172.3" width="255" height="10.7"/><rect class="w" x="1205.7" y="187.3" width="236.3" height="88.4" rx="5"/>
<text class="q" x="1324.3" y="179.7">QTS: bussys-handheld-app.service.prod.peapod.com</text>
<text class="r" x="1440.7" y="192">App Servers: app120.node.prod.peapod.com; app121.node.prod.peapod.com; app122.node.prod.peapod.com</text>
<g id="qh-1"><use href="#s" x="1216.4" y="199.3"/><text class="l" x="1240" y="267">HHChangeOrderWEB</text></g>
<g id="qh-2"><use href="#s" x="1278.6" y="199.3"/><text class="l" x="1300" y="267">HHRetWEB</text></g>
<g id="qh-3"><use href="#s" x="1335.7" y="199.3"/><text class="l" x="1357" y="267">HHEqpInvWEB</text></g>
<g id="qh-4"><use href="#s" x="1392.9" y="199.3"/><text class="l" x="1415" y="267">HHPreCubedWEB</text></g>
</g>
<g id="qts-routing">
<rect class="b" x="1512" y="183" width="260.9" height="106"/><rect class="h" x="1510" y="172.3" width="265" height="10.7"/><rect class="w" x="1517" y="187.3" width="248.7" height="97.7" rx="5"/>
<text class="q" x="1642" y="179.7">QTS: bussys-routing-app.service.prod.peapod.com</text>
<text class="r" x="1764.3" y="192">App Servers: app141.node.prod.peapod.com; app183.node.prod.peapod.com; app181.node.prod.peapod.com</text>
<g id="qr-1"><use href="#s" x="1534.3" y="199.3"/><text class="m" x="1556.4" y="266">RoutingAppMenu<tspan x="1556.4" y="269">app141.node.prod.peapod.com;</tspan><tspan x="1556.4" y="272">app183.node.prod.peapod.com;</tspan><tspan x="1556.4" y="275">app181.node.prod.peapod.com;</tspan><tspan x="1556.4" y="278">app184.node.prod.peapod.com</tspan></text></g>
<g id="qr-2"><use href="#s" x="1591.4" y="199.3"/><text class="m" x="1612.9" y="266">InboundProgressRpt<tspan x="1612.9" y="269">app141.node.prod.peapod.com;</tspan><tspan x="1612.9" y="272">app183.node.prod.peapod.com;</tspan><tspan x="1612.9" y="275">app181.node.prod.peapod.com;</tspan><tspan x="1612.9" y="278">app184.node.prod.peapod.com</tspan></text></g>
<g id="qr-3"><use href="#s" x="1648.6" y="199.3"/><text class="m" x="1670.7" y="266">MuxeotransLoader<tspan x="1670.7" y="269">app141.node.prod.peapod.com;</tspan><tspan x="1670.7" y="272">app183.node.prod.peapod.com;</tspan><tspan x="1670.7" y="275">app181.node.prod.peapod.com;</tspan><tspan x="1670.7" y="278">app184.node.prod.peapod.com</tspan></text></g>
<g id="qr-4"><use href="#s" x="1705.7" y="199.3"/><text class="m" x="1727.9" y="266">RoadnetSetup<tspan x="1727.9" y="269">app141.node.prod.peapod.com;</tspan><tspan x="1727.9" y="272">app183.node.prod.peapod.com;</tspan><tspan x="1727.9" y="275">app181.node.prod.peapod.com;</tspan><tspan x="1727.9" y="278">app184.node.prod.peapod.com</tspan></text></g>
</g>
<g id="qts-general">
<rect class="b" x="902" y="325.7" width="458.7" height="116.3"/><rect class="h" x="900" y="315" width="462.9" height="10.7"/><rect class="w" x="909.3" y="330" width="445" height="97.3" rx="5"/>
<text class="q" x="1130.7" y="322.3">QTS: bussys-general-app.service.prod.peapod.com</text>
<text class="r" x="1352" y="335">App Servers: app117.node.prod.peapod.com; app118.node.prod.peapod.com; app119.node.prod.peapod.com</text>
<g id="qg-1"><use href="#s" x="915" y="343"/><text class="l" x="937" y="410.7">ProdRequest</text></g>
<g id="qg-2"><use href="#s" x="970.7" y="342.3"/><text class="l" x="992.9" y="410.7">PaymentMethodDi<tspan x="992.9" y="417">splay</tspan></text></g>
<g id="qg-3"><use href="#s" x="1026.4" y="342.3"/><text class="l" x="1047.9" y="410.7">SlotReport</text></g>
<g id="qg-4"><use href="#s" x="1081.4" y="342.3"/><text class="l" x="1103.6" y="410.7">PaymentMethodDi<tspan x="1103.6" y="417">splay</tspan></text></g>
<g id="qg-5"><use href="#s" x="1137.1" y="342.3"/><text class="l" x="1158.6" y="410.7">EasyTip</text></g>
<g id="qg-6"><use href="#s" x="1192.9" y="342.3"/><text class="l" x="1214.3" y="410.7">LoadStatCtrl</text></g>
<g id="qg-7"><use href="#s" x="1248.6" y="342.3"/><text class="l" x="1270" y="410.7">MktngPromoWEB</text></g>
<g id="qg-8"><use href="#s" x="1304.3" y="342.3"/><text class="l" x="1325.7" y="410.7">EmailControl</text></g>
</g>
<g id="qts-hsccnc">
<rect class="b" x="1400.7" y="326" width="136.3" height="125"/><rect class="h" x="1399.3" y="315" width="140" height="11"/><rect class="w" x="1407.9" y="330" width="117.8" height="117.3" rx="5"/>
<text class="q" x="1468.6" y="322.5">QTS: bussys-hsccnc-app.service.prod.peapod.com</text>
<text class="r" x="1524" y="336">App Servers: app123.node.prod.peapod.com;</text>
<text class="a" x="1434.3" y="341.5">app124.node.prod.peapod.com;<tspan x="1434.3" y="347">app126.node.prod.peapod.com;</tspan><tspan x="1434.3" y="353">app215.node.prod.peapod.com;</tspan><tspan x="1434.3" y="358.5">app216.node.prod.peapod.com;</tspan><tspan x="1434.3" y="365">app217.node.prod.peapod.com</tspan></text>
<g id="qhs-1"><use href="#s" x="1419.3" y="372.3"/><text class="l" x="1440" y="440.3">PickupMgmtCNC</text></g>
<g id="qhs-2"><use href="#s" x="1476.4" y="372.3"/><text class="l" x="1497" y="440.3">CNCPrinterMaint</text></g>
</g>
<g id="qts-manh">
<rect class="b" x="1600" y="330" width="85" height="121"/><rect class="h" x="1598.3" y="312" width="88.4" height="18"/><rect class="w" x="1606" y="334" width="72.3" height="112" rx="5"/>
<text class="q" x="1642.3" y="319.3">QTS: bussys-manh-<tspan x="1642.3" y="326">app.service.prod.peapod.com</tspan></text>
<text class="a" x="1610" y="339">App Servers:<tspan x="1610" y="345">app129.node.prod.peapod.com;</tspan><tspan x="1610" y="351">app130.node.prod.peapod.com;</tspan><tspan x="1610" y="356">app131.node.prod.peapod.com;</tspan><tspan x="1610" y="362">app226.node.prod.peapod.com;</tspan><tspan x="1610" y="368">app227.node.prod.peapod.com</tspan></text>
<g id="qm-1"><use href="#s" x="1620.3" y="374.3"/><text class="l" x="1642.3" y="442">HermesWeb</text></g>
</g>
<g id="qts-hsc">
<rect class="b" x="1711.3" y="330" width="85.7" height="117.7"/><rect class="h" x="1710" y="312" width="88.3" height="18"/><rect class="w" x="1717" y="334" width="72.3" height="105.3" rx="5"/>
<text class="q" x="1754" y="319.3">QTS: bussys-hsc-<tspan x="1754" y="326">app.service.prod.peapod.com</tspan></text>
<text class="a" x="1721.7" y="340">App<tspan x="1772" y="340">Servers:</tspan><tspan x="1721.7" y="345">app123.node.prod.peapod.com;</tspan><tspan x="1721.7" y="351">app124.node.prod.peapod.com;</tspan><tspan x="1721.7" y="357">app 126.node.prod.peapod</tspan><tspan x="1721.7" y="363">.com;</tspan></text>
<g id="qhc-1"><use href="#s" x="1731.3" y="364.3"/><text class="l" x="1753" y="433">PrinterMaint</text></g>
</g>
<g id="qts-ccare">
<rect class="b" x="935" y="488.3" width="394" height="101.7"/><rect class="h" x="933" y="477.3" width="398" height="11"/><rect class="w" x="939.2" y="492" width="385" height="92.3" rx="5"/>
<text class="q" x="1131.4" y="485">QTS: bussys-ccare-app.service.prod.peapod.com</text>
<text class="r" x="1321.5" y="498">App Servers: app111.node.prod.peapod.com; app112.node.prod.peapod.com; app113.node.prod.peapod.com</text>
<g id="qc-1"><use href="#s" x="944.7" y="504.3"/><text class="l" x="966" y="573">EmailTemplates</text></g>
<g id="qc-2"><use href="#s" x="999.1" y="504.3"/><text class="l" x="1021" y="573">MngCCEmail</text></g>
<g id="qc-3"><use href="#s" x="1053.6" y="504.3"/><text class="l" x="1075.6" y="573">ContactCustomer</text></g>
<g id="qc-4"><use href="#s" x="1108" y="504.3"/><text class="l" x="1130" y="573">AccountingCodes</text></g>
<g id="qc-5"><use href="#s" x="1162.4" y="504.3"/><text class="l" x="1184.4" y="573">FraudChaserSP</text></g>
<g id="qc-6"><use href="#s" x="1216.8" y="504.3"/><text class="l" x="1239.5" y="573">ServiceRecordRep<tspan x="1239.5" y="579.5">ort</tspan></text></g>
<g id="qc-7"><use href="#s" x="1271.2" y="504.3"/><text class="l" x="1293.2" y="573">CustomerDatabase</text></g>
</g>
<g id="customerdatabase2"><use href="#s" x="1403.4" y="502.3"/><text class="l" x="1426" y="571">CustomerDatabase2</text></g>
<g id="qts-opd">
<rect class="b" x="1544.6" y="492" width="289.9" height="94.7"/><rect class="h" x="1543" y="481" width="293" height="11"/><rect class="w" x="1548.7" y="496" width="281.7" height="86.3" rx="5"/>
<text class="q" x="1689.2" y="488.7">QTS: bussys-opd-app.service.prod.peapod.com</text>
<text class="r" x="1827" y="502">App Servers: app115.node.prod.peapod.com; app116.node.prod.peapod.com; app117.node.prod.peapod.com</text>
<g id="qo-1"><use href="#s" x="1554.2" y="508.3"/><text class="l" x="1576.3" y="577">PodLoader</text></g>
<g id="qo-2"><use href="#s" x="1611.4" y="508.3"/><text class="l" x="1632.8" y="577">PodgroupMaint</text></g>
<g id="qo-3"><use href="#s" x="1669.3" y="508.3"/><text class="l" x="1690.6" y="577">OPDContent</text></g>
<g id="qo-4"><use href="#s" x="1725.7" y="508.3"/><text class="l" x="1747" y="577">CarTreeMaint</text></g>
<g id="qo-5"><use href="#s" x="1778.8" y="509.3"/><text class="l" x="1801.5" y="577">FeaturedBrands</text></g>
</g>
<g id="qts-routing2">
<rect class="b" x="909.6" y="646.7" width="579.2" height="96.3"/><rect class="h" x="907.5" y="636" width="583.4" height="10.7"/><rect class="w" x="914.4" y="650" width="569.6" height="87.3" rx="5"/>
<text class="q" x="1198.9" y="643.3">QTS: bussys-routing-app.service.prod.peapod.com</text>
<text class="r" x="1481.2" y="656">App Servers: app138.node.prod.peapod.com; app139.node.prod.peapod.com; app140.node.prod.peapod.com</text>
<g id="qt-1"><use href="#s" x="924.1" y="664.3"/><text class="l" x="946" y="732.3">PupManager</text></g>
<g id="qt-2"><use href="#s" x="984" y="664.3"/><text class="l" x="1006" y="732.3">OrderTracker</text></g>
<g id="qt-3"><use href="#s" x="1038.4" y="664.3"/><text class="l" x="1059.8" y="732.3">TruckTracker</text></g>
<g id="qt-4"><use href="#s" x="1092.8" y="664.3"/><text class="l" x="1114.8" y="732.3">ZipMove</text></g>
<g id="qt-5"><use href="#s" x="1149.3" y="663.3"/><text class="l" x="1171.3" y="731">AsnMaintWeb</text></g>
<g id="qt-6"><use href="#s" x="1206.4" y="663.3"/><text class="l" x="1227.8" y="731">RoadnetDispatch</text></g>
<g id="qt-7"><use href="#s" x="1263.6" y="663.3"/><text class="l" x="1286.3" y="731">SlotMgmt</text></g>
<g id="qt-8"><use href="#s" x="1320.8" y="663.3"/><text class="l" x="1342.8" y="731">DispatchDepot</text></g>
<g id="qt-9"><use href="#s" x="1377.9" y="663.3"/><text class="l" x="1400" y="731">SlotGen</text></g>
<g id="qt-10"><use href="#s" x="1431.7" y="663.3"/><text class="l" x="1453.7" y="731">RoadnetDepot</text></g>
</g>
<g id="qts-tech">
<rect class="b" x="1544.6" y="650" width="276.9" height="93"/><rect class="h" x="1543" y="639" width="279.8" height="11"/><rect class="w" x="1550" y="654" width="267.3" height="85.3" rx="5"/>
<text class="q" x="1682.3" y="647">QTS: bussys-tech-app.service.prod.peapod.com</text>
<text class="r" x="1816" y="660">App Servers: app161.node.prod.peapod.com; app162.node.prod.peapod.com; app163.node.prod.peapod.com</text>
<g id="qe-1"><use href="#s" x="1558.4" y="666.3"/><text class="l" x="1579.7" y="735">ScriptPwdWEB</text></g>
<g id="qe-2"><use href="#s" x="1610" y="667.3"/><text class="l" x="1632" y="735">MiscTools</text></g>
<g id="qe-3"><use href="#s" x="1663.7" y="667.3"/><text class="l" x="1684.4" y="735">LDAP</text></g>
<g id="qe-4"><use href="#s" x="1716.8" y="667.3"/><text class="l" x="1738" y="735">SecurityMgr</text></g>
<g id="qe-5"><use href="#s" x="1769" y="667.3"/><text class="l" x="1790.5" y="735">LDAP</text></g>
</g>
<g id="qts-newton">
<rect class="b" x="909" y="800" width="496.2" height="180"/><rect class="h" x="906.9" y="789" width="500.3" height="11"/><rect class="w" x="915" y="803.3" width="485.5" height="172.7" rx="5"/>
<text class="q" x="1156.4" y="796.3">QTS: bussys-newton-app.service.prod.peapod.com</text>
<text class="r" x="1398.5" y="809.5">App Servers: app132.node.prod.peapod.com app133.node.prod.peapod.com app134.node.prod.peapod.com</text>
<g id="qn-0"><use href="#s" x="921.8" y="853.3"/><text class="l" x="943.4" y="922">SvcRedRptCC</text></g>
<g id="qn-1"><use href="#s" x="973.8" y="816.3"/><text class="l" x="994.8" y="884.3">RoutingAppMenu</text></g>
<g id="qn-2"><use href="#s" x="1029.3" y="816.3"/><text class="l" x="1050.2" y="884.3">ChangeOrderRpt</text></g>
<g id="qn-3"><use href="#s" x="1084" y="816.3"/><text class="l" x="1104.3" y="884.3">StkPoolRptMaint</text></g>
<g id="qn-4"><use href="#s" x="1138.1" y="816.3"/><text class="l" x="1159.8" y="884.3">PrepReportMDS</text></g>
<g id="qn-5"><use href="#s" x="1191.6" y="816.3"/><text class="l" x="1213.2" y="884.3">InboundAsnReport</text></g>
<g id="qn-6"><use href="#s" x="1244.3" y="816.3"/><text class="l" x="1267.3" y="884.3">VendorScheduleW<tspan x="1267.3" y="891.3">EB</tspan></text></g>
<g id="qn-7"><use href="#s" x="1297.7" y="816.3"/><text class="l" x="1318.7" y="884.3">IntranetView</text></g>
<g id="qn-8"><use href="#s" x="1351.1" y="816.3"/><text class="l" x="1372" y="884.3">OOSViews</text></g>
<g id="qn-9"><use href="#s" x="973.8" y="898.3"/><text class="l" x="996.8" y="967.3">InboundProgressRpt</text></g>
<g id="qn-10"><use href="#s" x="1028.6" y="898.3"/><text class="l" x="1049.6" y="967.3">SlotLabels</text></g>
<g id="qn-11"><use href="#s" x="1082.7" y="898.3"/><text class="l" x="1104.3" y="967.3">InvAdj</text></g>
<g id="qn-12"><use href="#s" x="1137.5" y="898.3"/><text class="l" x="1158.4" y="967.3">CountControl</text></g>
<g id="qn-13"><use href="#s" x="1191.6" y="898.3"/><text class="l" x="1213.2" y="967.3">OrderReleaseMaint</text></g>
<g id="qn-14"><use href="#s" x="1246.3" y="898.3"/><text class="l" x="1267.3" y="967.3">PrepReportMaint</text></g>
<g id="qn-15"><use href="#s" x="1300.4" y="898.3"/><text class="l" x="1321.4" y="967.3">PrintInvoiceMaint</text></g>
<g id="qn-16"><use href="#s" x="1351.1" y="898.3"/><text class="l" x="1372" y="967.3">VendCalTracker</text></g>
</g>
<g id="qts-merch">
<rect class="b" x="1455.2" y="800" width="456.4" height="172.7"/><rect class="h" x="1453.2" y="789" width="459.8" height="11"/><rect class="w" x="1462" y="805" width="442.2" height="160" rx="5"/>
<text class="q" x="1683.8" y="796.3">QTS: bussys-merchandising-app.service.prod.peapod.com</text>
<text class="r" x="1902.2" y="811">App Servers: app199.node.prod.peapod.com; app200.node.prod.peapod.com; app201.node.prod.peapod.com</text>
<g id="qd-1"><use href="#s" x="1468.8" y="817.7"/><text class="l" x="1489.7" y="886">NewItemTasking</text></g>
<g id="qd-2"><use href="#s" x="1522.9" y="817.7"/><text class="l" x="1544.5" y="886">AdCategoryMaint</text></g>
<g id="qd-3"><use href="#s" x="1577.6" y="817.7"/><text class="l" x="1598.6" y="886">CostMaint</text></g>
<g id="qd-4"><use href="#s" x="1631.7" y="817.7"/><text class="l" x="1652.7" y="886">CorpIntMrch</text></g>
<g id="qd-5"><use href="#s" x="1686.5" y="817.7"/><text class="l" x="1707.5" y="886">CostMaint</text></g>
<g id="qd-6"><use href="#s" x="1740.6" y="817.7"/><text class="l" x="1761.6" y="886">CorpIntMrch</text></g>
<g id="qd-7"><use href="#s" x="1795.4" y="817.7"/><text class="l" x="1816.3" y="886">DpgAdmin</text></g>
<g id="qd-8"><use href="#s" x="1850.1" y="817.7"/><text class="l" x="1871.7" y="886">FactrmMrchWEB</text></g>
<g id="qd-9"><use href="#s" x="1468.8" y="893.3"/><text class="l" x="1489.7" y="961">WebItemMerch</text></g>
<g id="qd-10"><use href="#s" x="1522.9" y="893.3"/><text class="l" x="1544.5" y="961">PurchMaint</text></g>
<g id="qd-11"><use href="#s" x="1577.6" y="893.3"/><text class="l" x="1598.6" y="961">ItemAuditReport</text></g>
<g id="qd-12"><use href="#s" x="1631.7" y="893.3"/><text class="l" x="1653" y="961">Showroom</text></g>
<g id="qd-13"><use href="#s" x="1686.5" y="893.3"/><text class="l" x="1707.5" y="961">InvAuditRpt</text></g>
<g id="qd-14"><use href="#s" x="1740.6" y="893.3"/><text class="l" x="1761.6" y="961">LocationDef</text></g>
<g id="qd-15"><use href="#s" x="1795.4" y="893.3"/><text class="l" x="1816.3" y="961">WebPromo</text></g>
<g id="qd-16"><use href="#s" x="1850.1" y="893.3"/><text class="l" x="1870.4" y="961">Indirect</text></g>
</g>
</svg>
